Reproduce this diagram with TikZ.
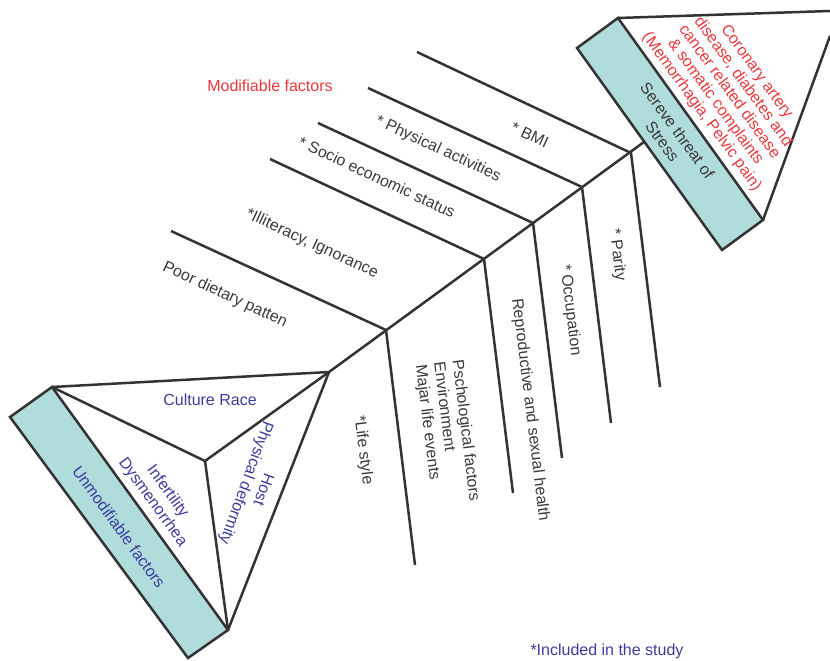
\documentclass[tikz,border=0pt]{standalone}
\usepackage{fontspec}
\setmainfont{Liberation Sans}
\definecolor{ln}{HTML}{333333}
\definecolor{boxfill}{HTML}{B0DCDC}
\definecolor{redt}{HTML}{E8383D}
\definecolor{bluet}{HTML}{3C3C9C}
\definecolor{txt}{HTML}{3A3A3A}
\tikzset{
  bone/.style={draw=ln, line width=2.5pt, line join=miter},
  boxst/.style={draw=ln, fill=boxfill, line width=2.5pt, line join=miter},
  lbl/.style={text=txt, font=\fontsize{16}{18.5}\selectfont, inner sep=0pt},
  redlbl/.style={lbl, text=redt, font=\fontsize{16}{17}\selectfont},
  bluelbl/.style={lbl, text=bluet},
  up/.style={rotate=-25},
  dn/.style={rotate=-83}
}
\begin{document}
\begin{tikzpicture}[x=1pt,y=-1pt]
\useasboundingbox (0,0) rectangle (830,661);
% bottom-left triangle
\coordinate (tA) at (329,372);
\coordinate (tB) at (52,387);
\coordinate (tC) at (228,630);
\coordinate (tD) at (205,461);
\coordinate (ub1) at (10,417);
\coordinate (ub2) at (188,658);
% head
\coordinate (hb1) at (618,18);
\coordinate (hb2) at (763,220);
\coordinate (hb3) at (722,250);
\coordinate (hb4) at (577,48);
\coordinate (hT) at (830,11);
\coordinate (hR) at (830,36);
\coordinate (sE) at (644,142);
% junctions
\coordinate (j1) at (386,330);
\coordinate (j2) at (484,259);
\coordinate (j3) at (533,223);
\coordinate (j4) at (582,187);
\coordinate (j5) at (631,153);
\coordinate (u1) at (171,231);
\coordinate (u2) at (270,159);
\coordinate (u3) at (318,123);
\coordinate (u4) at (368,88);
\coordinate (u5) at (417,52);
\coordinate (d1) at (415,565);
\coordinate (d2) at (513,493);
\coordinate (d3) at (562,458);
\coordinate (d4) at (611,423);
\coordinate (d5) at (660,387);

\draw[boxst] (tB) -- (tC) -- (ub2) -- (ub1) -- cycle;
\draw[bone] (tB) -- (tA) -- (tC);
\draw[bone] (tB) -- (tD) -- (tA);
\draw[bone] (tD) -- (tC);

\draw[boxst] (hb1) -- (hb2) -- (hb3) -- (hb4) -- cycle;
\draw[bone] (hb1) -- (hT);
\draw[bone] (hb2) -- (hR);

\draw[bone] (tA) -- (sE);
\foreach \i in {1,...,5}{
  \draw[bone] (u\i) -- (j\i) -- (d\i);
}

% labels
\node[lbl, up] (nBMI) at (530,135) {* BMI};
\node[lbl, up] (nPA) at (438,149) {* Physical activities};
\node[lbl, up] (nSES) at (377,177) {* Socio economic status};
\node[lbl, up] (nIll) at (312,244) {*Illiteracy, Ignorance};
\node[lbl, up] (nPoor) at (225,295) {Poor dietary patten};

\node[lbl, dn] (nLife) at (363,450) {*Life style};
\node[lbl, dn, align=left] (nPsy) at (447,433) {Pschological factors\\Environment\\Majar life events};
\node[lbl, dn] (nRep) at (530,410) {Reproductive and sexual health};
\node[lbl, dn] (nOcc) at (570,310) {* Occupation};
\node[lbl, dn] (nPar) at (617,255) {* Parity};

\node[lbl, text=redt] (nMod) at (270,86) {Modifiable factors};
\node[bluelbl] (nInc) at (607,651) {*Included in the study};

\node[bluelbl] (nCul) at (210,400) {Culture Race};
\node[bluelbl, rotate=-54, align=center] (nInf) at (160,497) {Infertility\\Dysmenorrhea};
\node[bluelbl, rotate=-110, align=center] (nHost) at (254,486) {Host\\Physical deformity};
\node[bluelbl, rotate=-54] (nUnm) at (119,527) {Unmodifiable factors};

\node[lbl, rotate=-54, align=center] (nSer) at (670,136) {Sereve threat of\\Stress};
\node[redlbl, rotate=-54, align=center] (nCor) at (729,92) {Coronary artery\\disease, diabetes and\\cancer related disease\\\& somatic complaints\\(Memorrhagia, Pelvic pain)};
\end{tikzpicture}
\end{document}
